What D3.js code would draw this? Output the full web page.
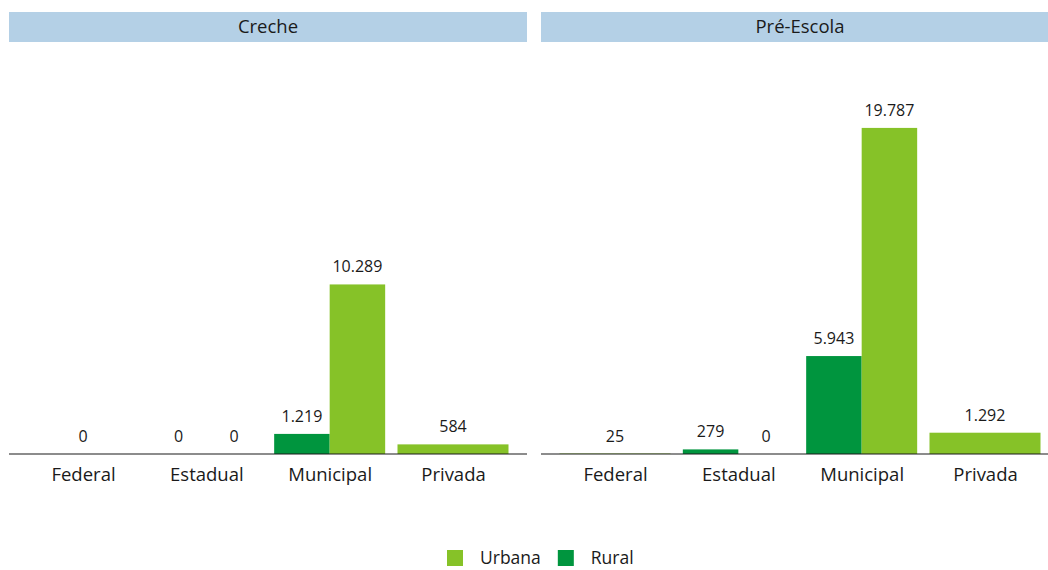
<!DOCTYPE html>
<html>
<head>
<meta charset="utf-8">
<script src="https://cdn.jsdelivr.net/npm/d3@7"></script>
<style>
  body { margin: 0; background: #fff; }
  text { font-family: "Open Sans", sans-serif; fill: #1a1a1a; }
</style>
</head>
<body>
<svg id="chart" width="1048" height="570"></svg>
<script>
// dados
const panels = ["Creche", "Pré-Escola"];
const categorias = ["Federal", "Estadual", "Municipal", "Privada"];
const series = ["Rural", "Urbana"];
// null = sem barra nessa categoria
const creche = { Rural: [null, 0, 1219, null], Urbana: [0, 0, 10289, 584] };
const preEscola = { Rural: [null, 279, 5943, null], Urbana: [25, 0, 19787, 1292] };
const cores = { Urbana: "#86c228", Rural: "#00953e" };
const legenda = ["Urbana", "Rural"];

const br = d3.formatLocale({ decimal: ",", thousands: ".", grouping: [3], currency: ["R$", ""] });
const fmt = br.format(",d");

const svg = d3.select("#chart");
const W = 518, baseY = 454, topY = 42, gap = 14, left = 9;

const y = d3.scaleLinear().domain([0, 25000]).range([baseY, topY]);

[creche, preEscola].forEach((dados, p) => {
  const x0 = left + p * (W + gap);
  const g = svg.append("g").attr("transform", "translate(" + x0 + ",0)");

  // faixa do título
  g.append("rect").attr("x", 0).attr("y", 12).attr("width", W).attr("height", 30).attr("fill", "#b4d0e6");
  g.append("text").attr("x", W / 2).attr("y", 27).attr("dy", "0.35em")
    .attr("text-anchor", "middle").style("font-size", "18.5px").text(panels[p]);

  // escala discreta com expansão de 0.6 unidade de cada lado
  const step = W / (categorias.length - 1 + 1.2);
  const x = d3.scalePoint().domain(categorias).range([0.6 * step, W - 0.6 * step]);
  const bw = 0.9 * step;

  categorias.forEach((c, i) => {
    const presentes = series.filter(s => dados[s][i] !== null);
    const w = bw / presentes.length;
    presentes.forEach((s, j) => {
      const v = dados[s][i];
      const bx = x(c) - bw / 2 + j * w;
      g.append("rect").attr("x", bx).attr("y", y(v)).attr("width", w)
        .attr("height", baseY - y(v)).attr("fill", cores[s]);
      g.append("text").attr("x", bx + w / 2).attr("y", y(v) - 12)
        .attr("text-anchor", "middle").style("font-size", "16px").text(fmt(v));
    });
  });

  // eixo x
  const ax = g.append("g").attr("transform", "translate(0," + baseY + ")")
    .call(d3.axisBottom(x).tickSize(0).tickPadding(14));
  ax.select(".domain").attr("d", "M0,0H" + W).attr("stroke", "#1a1a1a").attr("stroke-width", 1.2);
  ax.selectAll("text").style("font-size", "18.5px").style("font-family", "'Open Sans', sans-serif").attr("fill", "#1a1a1a");
});

// legenda
const leg = svg.append("g").attr("transform", "translate(447,550)");
let lx = 0;
legenda.forEach(s => {
  leg.append("rect").attr("x", lx).attr("y", 0).attr("width", 16).attr("height", 16).attr("fill", cores[s]);
  const t = leg.append("text").attr("x", lx + 33).attr("y", 8).attr("dy", "0.35em")
    .style("font-size", "17.5px").text(s);
  lx += 33 + t.node().getComputedTextLength() + 17;
});
</script>
</body>
</html>
